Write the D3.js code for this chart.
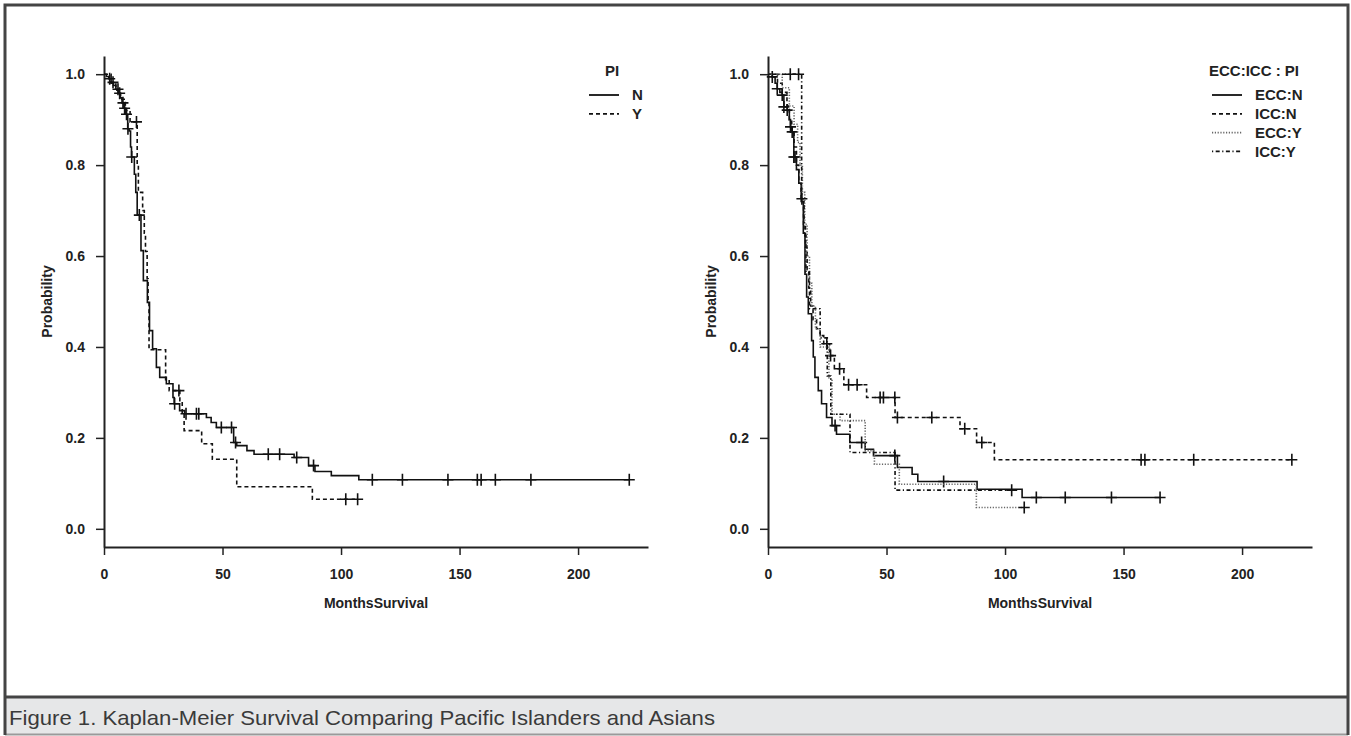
<!DOCTYPE html>
<html>
<head>
<meta charset="utf-8">
<script src="https://cdn.jsdelivr.net/npm/d3@7"></script>
<style>
  body { margin: 0; background: #fff; }
  text { font-family: "Liberation Sans", Arial, Helvetica, sans-serif; }
</style>
</head>
<body>
<script>
// ---- data (months, survival probability) ----
// left panel: PI
var piNTime = [1, 2, 3, 4, 5, 6, 6.8, 7.6, 8.4, 9.2, 10, 10.6, 11.2, 11.6, 12.8, 13.4, 14, 15.6, 16.6, 18.3, 19.2, 20.5, 22.1, 23.5, 26.3, 29.1, 29.6, 31.9, 34, 43.2, 45.2, 47.4, 54.7, 56, 60.3, 63.3, 80.2, 86.3, 89, 95.9, 107.5];
var piNSurv = [0.995, 0.99, 0.982, 0.975, 0.967, 0.958, 0.948, 0.937, 0.925, 0.912, 0.88, 0.875, 0.84, 0.818, 0.78, 0.74, 0.69, 0.612, 0.546, 0.498, 0.436, 0.396, 0.355, 0.333, 0.319, 0.289, 0.275, 0.26, 0.253, 0.245, 0.234, 0.223, 0.19, 0.183, 0.172, 0.164, 0.157, 0.139, 0.126, 0.117, 0.108];
var piNCensor = [2.4, 3.8, 5.9, 6.6, 8, 8.7, 9.5, 10.1, 11.7, 14.9, 29.8, 34.6, 39, 40, 49.5, 53.8, 55.5, 69.3, 74.1, 81.3, 88.4, 113.2, 125.9, 145.1, 157.5, 159.1, 165.1, 180.1, 221.6];

var piYTime = [3, 5, 7, 9, 11, 14, 14.5, 16.3, 17, 17.5, 18.2, 18.6, 19, 26, 27.5, 32, 33, 33.8, 41.2, 45.7, 56, 87.9];
var piYSurv = [0.98, 0.965, 0.945, 0.92, 0.895, 0.8, 0.74, 0.7, 0.65, 0.61, 0.55, 0.5, 0.394, 0.328, 0.304, 0.282, 0.255, 0.216, 0.187, 0.153, 0.0925, 0.065];
var piYCensor = [13.7, 31.6, 102, 107];

// right panel: ECC/ICC by PI
var eccNTime = [1.8, 3, 3.9, 5, 6, 6.7, 8.1, 9, 9.5, 10.2, 10.9, 12, 13, 14, 14.9, 15.6, 16.3, 17, 18.4, 19.1, 19.8, 21.2, 22.6, 24.7, 27, 28.9, 34.5, 41, 44.5, 54.6, 60.8, 63.2, 88.2, 107.2];
var eccNSurv = [0.994, 0.98, 0.968, 0.96, 0.954, 0.928, 0.921, 0.9, 0.884, 0.873, 0.818, 0.79, 0.76, 0.72, 0.65, 0.56, 0.51, 0.473, 0.414, 0.378, 0.333, 0.304, 0.275, 0.245, 0.227, 0.208, 0.19, 0.175, 0.161, 0.135, 0.12, 0.104, 0.087, 0.069];
var eccNCensor = [1.8, 3.9, 6, 6.7, 8.1, 9.5, 10.2, 10.9, 11.4, 28.3, 39.5, 53.5, 74.1, 113.2, 125.4, 144.9, 165.4];

var iccNTime = [4, 6, 8, 9, 10, 11, 12, 13, 14, 15, 15.8, 16.5, 17.2, 18, 19, 20.5, 22, 23.5, 26, 28, 32, 41.6, 53.6, 81, 88, 95.5];
var iccNSurv = [0.98, 0.96, 0.93, 0.9, 0.87, 0.84, 0.8, 0.76, 0.72, 0.67, 0.62, 0.57, 0.53, 0.49, 0.46, 0.44, 0.425, 0.407, 0.381, 0.352, 0.317, 0.289, 0.245, 0.22, 0.19, 0.152];
var iccNCensor = [24.8, 26.4, 30.2, 34, 37.6, 47.3, 48.7, 53.5, 54.6, 69.1, 83, 90.2, 157.4, 159, 179.6, 221];

var eccYTime = [6, 9, 11, 12.5, 13.5, 14.5, 15.5, 16.5, 17.5, 18.5, 20, 22, 25.7, 27, 30.4, 41, 44.9, 55.4, 87.9];
var eccYSurv = [0.97, 0.93, 0.89, 0.85, 0.8, 0.74, 0.67, 0.6, 0.54, 0.49, 0.44, 0.4, 0.33, 0.252, 0.238, 0.172, 0.142, 0.098, 0.047];
var eccYCensor = [108.1];

var iccYTime = [14.2, 15.2, 16, 17.5, 22, 25, 26.5, 34.6, 53.6];
var iccYSurv = [0.726, 0.645, 0.565, 0.484, 0.42, 0.336, 0.252, 0.168, 0.085];
var iccYCensor = [9.4, 12.9, 14.3, 102.8];

var xTicks = [0, 50, 100, 150, 200];
var yTicks = [0, 0.2, 0.4, 0.6, 0.8, 1.0];
var captionText = "Figure 1. Kaplan-Meier Survival Comparing Pacific Islanders and Asians";

// line styles (R lty 1..4)
var dashSolid = null, dashDashed = "4,3", dashDotted = "1.2,1.6", dashDotDash = "1.2,2.5,4,2.5";

var svgWidth = 1351;
var svgHeight = 736;

var svg = d3.select("body")
  .append("svg")
  .attr("width", svgWidth)
  .attr("height", svgHeight);

// frame + caption band
svg.append("rect").attr("width", svgWidth).attr("height", svgHeight).attr("fill", "#fff");
svg.append("rect")
  .attr("x", 5).attr("y", 697).attr("width", 1343).attr("height", 37)
  .attr("fill", "#e6e7e8");
svg.append("path")
  .attr("d", "M5,734.5 H1348")
  .attr("stroke", "#9a9a9a").attr("stroke-width", 2).attr("fill", "none");
svg.append("path")
  .attr("d", "M5,735 V5 H1348 V735")
  .attr("stroke", "#444").attr("stroke-width", 3).attr("fill", "none");
svg.append("path")
  .attr("d", "M5,697 H1348")
  .attr("stroke", "#444").attr("stroke-width", 3);

svg.append("text")
  .attr("x", 9).attr("y", 725)
  .attr("font-size", 21)
  .attr("fill", "#3a3a3a")
  .attr("textLength", 706)
  .attr("lengthAdjust", "spacingAndGlyphs")
  .text(captionText);

function survAt(times, surv, t) {
  var s = 1;
  for (var i = 0; i < times.length; i++) {
    if (times[i] <= t) s = surv[i];
  }
  return s;
}

function drawPanel(x0, series, legendTitle, legendX, legendTitleX) {
  var top = 56, bottom = 547, panelWidth = 544;
  var x = d3.scaleLinear().domain([0, 229.5]).range([x0, x0 + panelWidth]);
  var y = d3.scaleLinear().domain([-0.04, 1.04]).range([bottom, top]);

  var g = svg.append("g");

  // axes
  var xAxis = g.append("g")
    .attr("transform", `translate(0, ${bottom})`)
    .call(d3.axisBottom(x).tickValues(xTicks).tickSize(8).tickSizeOuter(0).tickPadding(14));
  var yAxis = g.append("g")
    .attr("transform", `translate(${x0}, 0)`)
    .call(d3.axisLeft(y).tickValues(yTicks).tickFormat(d3.format(".1f")).tickSize(8).tickSizeOuter(0).tickPadding(11));

  [xAxis, yAxis].forEach(function (a) {
    a.attr("font-family", null).attr("font-size", null);
    a.select(".domain").attr("stroke", "#222").attr("stroke-width", 2);
    a.selectAll(".tick line").attr("stroke", "#222").attr("stroke-width", 1.5);
    a.selectAll(".tick text")
      .attr("font-size", 14).attr("font-weight", "bold").attr("fill", "#222");
  });

  // axis titles
  g.append("text")
    .attr("transform", `translate(${x0 - 57}, ${(top + bottom) / 2}) rotate(-90)`)
    .attr("text-anchor", "middle")
    .attr("dy", "0.35em")
    .attr("font-size", 14).attr("font-weight", "bold").attr("fill", "#222")
    .text("Probability");
  g.append("text")
    .attr("x", x0 + panelWidth / 2).attr("y", 608)
    .attr("text-anchor", "middle")
    .attr("font-size", 14).attr("font-weight", "bold").attr("fill", "#222")
    .text("MonthsSurvival");

  var line = d3.line()
    .x(d => x(d[0]))
    .y(d => y(d[1]))
    .curve(d3.curveStepAfter);

  series.forEach(function (s) {
    var pts = [[0, 1]].concat(s.time.map((t, i) => [t, s.surv[i]]));
    var end = Math.max(d3.max(s.time), d3.max(s.censor));
    pts.push([end, s.surv[s.surv.length - 1]]);

    g.append("path")
      .datum(pts)
      .attr("d", line)
      .attr("fill", "none")
      .attr("stroke", s.color)
      .attr("stroke-width", 1.6)
      .attr("stroke-dasharray", s.dash);

    g.selectAll(null)
      .data(s.censor)
      .enter()
      .append("path")
      .attr("d", function (t) {
        var cx = x(t), cy = y(survAt(s.time, s.surv, t));
        return `M${cx - 5.5},${cy}H${cx + 5.5}M${cx},${cy - 6}V${cy + 6}`;
      })
      .attr("stroke", "#111")
      .attr("stroke-width", 1.6)
      .attr("fill", "none");
  });

  // legend
  g.append("text")
    .attr("x", legendTitleX).attr("y", 71)
    .attr("text-anchor", "middle")
    .attr("dy", "0.35em")
    .attr("font-size", 15).attr("font-weight", "bold").attr("fill", "#222")
    .text(legendTitle);

  series.forEach(function (s, i) {
    var ly = 95 + i * 18.8;
    g.append("line")
      .attr("x1", legendX).attr("x2", legendX + 30)
      .attr("y1", ly).attr("y2", ly)
      .attr("stroke", s.color)
      .attr("stroke-width", 1.8)
      .attr("stroke-dasharray", s.dash);
    g.append("text")
      .attr("x", legendX + 43).attr("y", ly)
      .attr("dy", "0.35em")
      .attr("font-size", 15).attr("font-weight", "bold").attr("fill", "#222")
      .text(s.name);
  });
}

drawPanel(104, [
  { name: "N", time: piNTime, surv: piNSurv, censor: piNCensor, dash: dashSolid, color: "#111" },
  { name: "Y", time: piYTime, surv: piYSurv, censor: piYCensor, dash: dashDashed, color: "#111" }
], "PI", 589, 612);

drawPanel(768, [
  { name: "ECC:N", time: eccNTime, surv: eccNSurv, censor: eccNCensor, dash: dashSolid, color: "#111" },
  { name: "ICC:N", time: iccNTime, surv: iccNSurv, censor: iccNCensor, dash: dashDashed, color: "#111" },
  { name: "ECC:Y", time: eccYTime, surv: eccYSurv, censor: eccYCensor, dash: dashDotted, color: "#666" },
  { name: "ICC:Y", time: iccYTime, surv: iccYSurv, censor: iccYCensor, dash: dashDotDash, color: "#111" }
], "ECC:ICC : PI", 1212, 1254);
</script>
</body>
</html>
